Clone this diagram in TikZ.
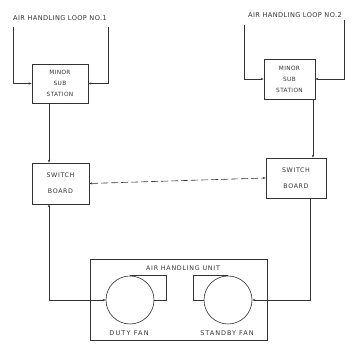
\documentclass[tikz,border=0pt]{standalone}
\usepackage{fontspec}
\setmainfont{DejaVu Sans}
\usetikzlibrary{arrows.meta}
\definecolor{ink}{gray}{0.2}
\newcommand{\ls}[1]{\addfontfeature{LetterSpace=#1}}
\begin{document}
\begin{tikzpicture}[x=1pt,y=-1pt,
  line width=0.6pt, draw=ink, text=ink,
  >={Stealth[length=3pt,width=2.2pt]},
  blk/.style={draw=ink,line width=0.6pt,align=center,inner sep=0pt,font=\fontsize{5.8}{11}\selectfont\ls{6}},
  lbl/.style={inner sep=0pt,font=\fontsize{6.3}{7}\selectfont},
  fan/.style={draw=ink,circle,minimum size=48pt,inner sep=0pt}]
\useasboundingbox[fill=white] (0,0) rectangle (360,344);
% labels
\node[lbl,font=\fontsize{6.6}{7}\selectfont\ls{6}] (loop1) at (60,18) {AIR HANDLING LOOP NO.1};
\node[lbl,font=\fontsize{6.6}{7}\selectfont\ls{6}] (loop2) at (295,15) {AIR HANDLING LOOP NO.2};
% boxes
\node[blk,minimum width=56pt,minimum height=39pt] (mss1) at (60,83.5) {MINOR\\SUB\\STATION};
\node[blk,minimum width=51pt,minimum height=40pt] (mss2) at (289.5,79) {MINOR\\SUB\\STATION};
\node[blk,minimum width=57pt,minimum height=41pt,font=\fontsize{6.3}{16}\selectfont\ls{10}] (sb1) at (60.5,183.5) {SWITCH\\BOARD};
\node[blk,minimum width=60pt,minimum height=40pt,font=\fontsize{6.3}{16}\selectfont\ls{10}] (sb2) at (296,178) {SWITCH\\BOARD};
% air handling unit
\node[draw=ink,line width=0.6pt,minimum width=177pt,minimum height=81pt,inner sep=0pt] (ahu) at (178.5,299.5) {};
\node[lbl,font=\fontsize{6.3}{7}\selectfont\ls{12}] (ahut) at (183,268) {AIR HANDLING UNIT};
\node[fan] (dfan) at (130,300) {};
\node[fan] (sfan) at (228,300) {};
\node[lbl,font=\fontsize{6.5}{7}\selectfont\ls{18}] (dft) at (129,333) {DUTY FAN};
\node[lbl,font=\fontsize{6.5}{7}\selectfont\ls{15}] (sft) at (227,333) {STANDBY FAN};
% fan outlets
\draw (dfan.north) -- ++(36,0) |- (dfan.east);
\draw (sfan.north) -- ++(-35,0) |- (sfan.west);
% loop feeders
\coordinate (l1a) at (13,27);
\coordinate (l1b) at (108,27);
\coordinate (l2a) at (244,25);
\coordinate (l2b) at (344,20);
\draw[->] (l1a) |- (mss1.west);
\draw[->] (l1b) |- (mss1.east);
\draw[->] (l2a) |- (mss2.west);
\draw[->] (l2b) |- (mss2.east);
% substations to switchboards
\draw[->] (mss1.south -| 49,0) -- (sb1.north -| 49,0);
\draw[->] (mss2.south -| 313,0) -- (sb2.north -| 313,0);
% tie between switchboards
\draw[<->,dashed,dash pattern=on 7pt off 3pt] (sb1.east) -- (sb2.west);
% switchboards to fans
\draw[<->] (dfan.west) -| (sb1.south -| 49,0);
\draw[->] (sb2.south -| 310,0) |- (sfan.east);
\end{tikzpicture}
\end{document}
